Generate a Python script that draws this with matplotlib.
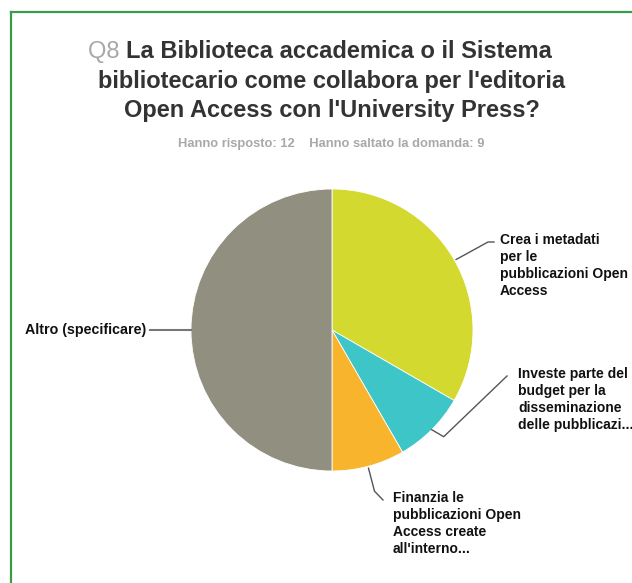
import matplotlib
matplotlib.use('Agg')
import matplotlib.pyplot as plt
from matplotlib.lines import Line2D
import numpy as np

W, H = 632, 583

categories = [
    "Crea i metadati\nper le\npubblicazioni Open\nAccess",
    "Investe parte del\nbudget per la\ndisseminazione\ndelle pubblicazi...",
    "Finanzia le\npubblicazioni Open\nAccess create\nall'interno...",
    "Altro (specificare)",
]
values = [4, 1, 1, 6]
colors = ['#d4d92f', '#3ec5c7', '#f8b42c', '#918f7f']
title_q = "Q8"
title_lines = ["La Biblioteca accademica o il Sistema",
               "bibliotecario come collabora per l'editoria",
               "Open Access con l'University Press?"]
subtitle = "Hanno risposto: 12    Hanno saltato la domanda: 9"

FONT = ['Liberation Sans', 'DejaVu Sans']

fig = plt.figure(figsize=(W / 100, H / 100), dpi=100)
ax = fig.add_axes([0, 0, 1, 1])

cx, cy, R = 332, H - 330, 141
wedges, _ = ax.pie(values, colors=colors, startangle=90, counterclock=False,
                   center=(cx, cy), radius=R, frame=True,
                   wedgeprops=dict(linewidth=0.6, edgecolor='white'))
ax.set_xlim(0, W)
ax.set_ylim(0, H)
ax.set_aspect('equal')
ax.axis('off')

# green frame
ax.add_line(Line2D([11, 11], [0, H - 12], color='#3b9b4a', lw=1.6))
ax.add_line(Line2D([11, W], [H - 12, H - 12], color='#3b9b4a', lw=1.6))

# title
renderer = fig.canvas.get_renderer()
tsize = 17
tq = ax.text(0, 0, title_q + " ", fontsize=tsize, fontweight='normal', family=FONT, color='#a8a8a8')
tr = ax.text(0, 0, title_lines[0], fontsize=tsize, fontweight='bold', family=FONT, color='#333333')
w1 = tq.get_window_extent(renderer).width
w2 = tr.get_window_extent(renderer).width
x0 = 320 - (w1 + w2) / 2
base = [58, 88, 117]
tq.set_position((x0, H - base[0]))
tr.set_position((x0 + w1, H - base[0]))
for line, b in zip(title_lines[1:], base[1:]):
    ax.text(332, H - b, line, fontsize=tsize, fontweight='bold', family=FONT,
            color='#333333', ha='center', va='baseline')
ax.text(331, H - 144, subtitle, fontsize=9.3, fontweight='bold', family=FONT,
        color='#a8a8a8', ha='center', va='center')

# labels with leader lines
label_pos = [(500, 233), (518, 367), (393, 491), (None, 330)]
lsize = 10
for w, lab, pos in zip(wedges, categories, label_pos):
    ang = np.deg2rad((w.theta1 + w.theta2) / 2)
    ex, ey = cx + R * np.cos(ang), cy + R * np.sin(ang)
    if pos[0] is None:
        ax.plot([ex, 150], [ey, ey], color='#777777', lw=1.5)
        ax.text(146, H - pos[1], lab, fontsize=lsize + 0.3, fontweight='bold', family=FONT,
                color='#111111', ha='right', va='center')
        continue
    tx, ty = pos
    if ex > cx and ey > cy - 20:
        xs = [ex + 2, tx - 12, tx - 6]
        ys = [ey, H - ty - 9, H - ty - 9]
    elif np.cos(ang) > 0.5:
        xs = [ex, ex + 12, tx - 11]
        ys = [ey, ey - 7, H - ty - 9]
    else:
        xs = [ex, ex + 6, tx - 10]
        ys = [ey - 2, ey - 25, H - ty - 9]
    ax.plot(xs, ys, color='#555555', lw=1.0, solid_joinstyle='round')
    ax.text(tx, H - ty, lab, fontsize=lsize, fontweight='bold', family=FONT,
            color='#111111', ha='left', va='top', linespacing=1.26)

fig.savefig('out.png', dpi=100)
